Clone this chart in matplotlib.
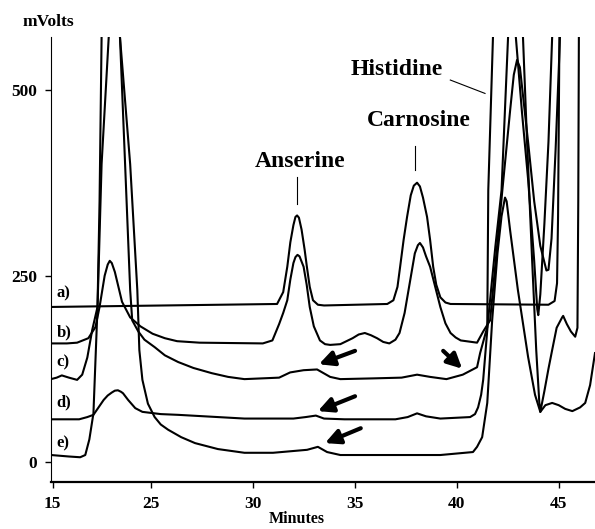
import matplotlib
matplotlib.use("Agg")
import matplotlib.pyplot as plt

plt.rcParams['font.family'] = ['Liberation Serif', 'DejaVu Serif']

# retention time (min) and detector response (mV)
a_t = [20.12, 31.2, 31.5, 31.7, 31.85, 32.0, 32.1, 32.18, 32.27, 32.4, 32.55, 32.66, 32.8,
       32.96, 33.2, 33.5, 36.6, 36.9, 37.1, 37.23, 37.4, 37.57, 37.75, 37.9, 38.06, 38.2,
       38.35, 38.55, 38.7, 38.85, 39.0, 39.2, 39.45, 39.7, 44.5, 44.8, 44.92, 44.97, 45.05]
a_v = [208, 212, 228, 262, 295, 318, 329, 331, 328, 312, 285, 262, 235,
       217, 211, 210, 212, 217, 235, 262, 298, 329, 358, 371, 375, 370,
       355, 329, 298, 262, 238, 221, 214, 212, 211, 216, 240, 330, 620]

b_t = [20.12, 20.9, 21.4, 21.95, 22.3, 22.5, 22.75, 22.9, 23.0, 23.1, 23.25, 23.6, 24.0,
       24.5, 25.1, 25.7, 26.3, 27.4, 30.5, 30.97, 31.3, 31.5, 31.7, 31.85, 32.0, 32.1, 32.2,
       32.3, 32.5, 32.65, 32.8, 33.0, 33.3, 33.55, 33.8, 34.3, 34.9, 35.2, 35.5, 35.8, 36.1,
       36.4, 36.7, 37.0, 37.2, 37.45, 37.7, 37.95, 38.1, 38.2, 38.35, 38.5, 38.7, 38.95,
       39.2, 39.45, 39.7, 39.95, 40.2, 41.0, 41.3, 41.64, 42.24, 42.62, 42.8, 42.96, 43.1,
       43.2, 43.5, 43.8, 44.1, 44.4, 44.5, 44.65, 44.85, 45.05, 45.15]
b_v = [159, 159, 160, 166, 181, 208, 250, 265, 270, 267, 255, 215, 194,
       182, 172, 166, 162, 160, 159, 163, 185, 200, 217, 245, 267, 275, 278,
       276, 262, 238, 208, 182, 163, 158, 157, 158, 166, 171, 173, 170, 166,
       161, 159, 164, 173, 200, 240, 280, 291, 294, 288, 276, 262, 235,
       208, 186, 173, 167, 163, 160, 175, 190, 365, 472, 520, 540, 530,
       505, 430, 350, 290, 257, 258, 300, 420, 560, 650]

c_t = [20.12, 20.4, 20.65, 21.0, 21.4, 21.65, 21.9, 22.14, 22.4, 22.5, 22.6, 22.7, 23.4,
       23.5, 24.0, 24.1, 24.4, 24.7, 25.2, 25.7, 26.35, 27.1, 28.0, 28.8, 29.6, 31.3, 31.84,
       32.5, 33.16, 33.8, 34.3, 35.9, 37.3, 38.06, 38.7, 39.5, 40.3, 41.0, 41.15, 41.5,
       41.55, 41.78, 41.85, 42.8, 42.9, 43.2, 43.5, 43.8, 43.95, 44.0, 44.1, 44.3, 44.5,
       44.68, 44.75]
c_v = [111, 113, 116, 113, 110, 117, 140, 177, 208, 350, 571, 800, 800,
       571, 231, 190, 175, 164, 154, 143, 134, 126, 119, 114, 111, 113, 120,
       123, 124, 114, 111, 112, 113, 117, 114, 111, 117, 127, 146, 181,
       365, 571, 800, 800, 571, 470, 380, 270, 205, 197, 225, 320, 430,
       571, 800]

d_t = [20.12, 21.5, 21.9, 22.2, 22.7, 22.9, 23.1, 23.25, 23.4, 23.55, 23.65, 23.9, 24.25,
       24.6, 25.5, 26.35, 29.6, 32.0, 32.6, 33.1, 33.5, 34.5, 37.0, 37.6, 38.06, 38.5, 39.2,
       40.66, 40.9, 41.05, 41.2, 41.3, 41.54, 41.9, 42.2, 42.52, 42.6, 43.15, 43.25, 43.45,
       43.7, 43.9, 44.05, 44.1, 44.3, 44.5, 44.68, 44.9, 45.17, 45.22, 45.4, 45.6, 45.81,
       45.92, 45.96, 46.0]
d_v = [57, 57, 60, 63, 83, 89, 93, 95.5, 96, 94, 92, 83, 72,
       67, 64, 63, 58, 58, 60, 62, 58, 57, 57, 60, 65, 61, 58,
       60, 64, 73, 90, 110, 190, 290, 365, 571, 800, 800, 571, 430,
       270, 150, 80, 67, 95, 125, 150, 180, 194, 196, 185, 175, 168,
       180, 350, 650]

e_t = [20.12, 21.0, 21.55, 21.8, 22.0, 22.2, 22.4, 22.6, 22.95, 23.0, 23.45, 23.5, 24.0,
       24.35, 24.45, 24.6, 24.87, 25.2, 25.5, 25.86, 26.5, 27.18, 28.3, 29.6, 31.0, 32.67,
       33.2, 33.65, 34.3, 39.2, 40.8, 41.0, 41.25, 41.5, 41.74, 42.0, 42.2, 42.37, 42.45,
       42.62, 43.0, 43.5, 43.84, 44.1, 44.35, 44.68, 45.0, 45.32, 45.67, 46.05, 46.3, 46.54,
       46.78]
e_v = [9, 7, 6, 9, 30, 65, 208, 400, 571, 800, 800, 571, 400,
       231, 150, 110, 78, 60, 50, 43, 33, 25, 17, 12, 12, 16,
       20, 13, 9, 9, 13, 20, 33, 79, 190, 280, 330, 355, 350,
       311, 231, 141, 90, 67, 76, 79, 76, 71, 68, 73, 79, 103,
       146]

traces = [(a_t, a_v), (b_t, b_v), (c_t, c_v), (d_t, d_v), (e_t, e_v)]
trace_names = ['a)', 'b)', 'c)', 'd)', 'e)']
name_y = [226, 174, 133, 80, 25]

x_ticks = [20.2, 25, 30, 35, 40, 45]
x_labels = ['15', '25', '30', '35', '40', '45']
y_ticks = [0, 250, 500]

fig = plt.figure(figsize=(5.95, 5.29), dpi=100)
ax = fig.add_axes([0.0857, 0.0888, 0.9143, 0.8412])

for t, v in traces:
    ax.plot(t, v, color='black', lw=1.5, solid_joinstyle='round')

for name, y in zip(trace_names, name_y):
    ax.text(20.4, y, name, fontsize=12, fontweight='bold', va='center', ha='left')

# peak labels with pointer lines
ax.text(32.35, 403, 'Anserine', fontsize=17, fontweight='bold', ha='center', va='center')
ax.plot([32.18, 32.18], [347, 382], color='black', lw=0.8)
ax.text(38.15, 459, 'Carnosine', fontsize=17, fontweight='bold', ha='center', va='center')
ax.plot([37.95, 37.95], [392, 425], color='black', lw=0.8)
ax.text(37.05, 527, 'Histidine', fontsize=17, fontweight='bold', ha='center', va='center')
ax.plot([39.69, 41.39], [513, 495], color='black', lw=0.8)

arrows = [((35.02, 149), (33.25, 131)), ((39.34, 149), (40.27, 125)),
          ((35.02, 88), (33.2, 68)), ((35.3, 45), (33.55, 25))]
for tail, head in arrows:
    ax.annotate('', xy=head, xytext=tail,
                arrowprops=dict(arrowstyle='-|>', lw=3, color='black', mutation_scale=22,
                                shrinkA=0, shrinkB=0))

ax.set_xlim(20.12, 46.78)
ax.set_ylim(-27.3, 570.8)
ax.set_xticks(x_ticks)
ax.set_xticklabels(x_labels)
ax.set_yticks(y_ticks)
for lab in ax.get_xticklabels() + ax.get_yticklabels():
    lab.set_fontsize(12.5)
    lab.set_fontweight('bold')
ax.tick_params(direction='out', length=4, width=1, pad=6)
ax.spines['top'].set_visible(False)
ax.spines['right'].set_visible(False)
ax.spines['left'].set_linewidth(0.8)
ax.spines['bottom'].set_linewidth(1.6)

fig.text(48 / 595, 1 - 22 / 529, 'mVolts', fontsize=12.5, fontweight='bold', ha='center', va='center')
fig.text(297 / 595, 1 - 519 / 529, 'Minutes', fontsize=11.5, fontweight='bold', ha='center', va='center')

fig.savefig('out.png', dpi=100)
